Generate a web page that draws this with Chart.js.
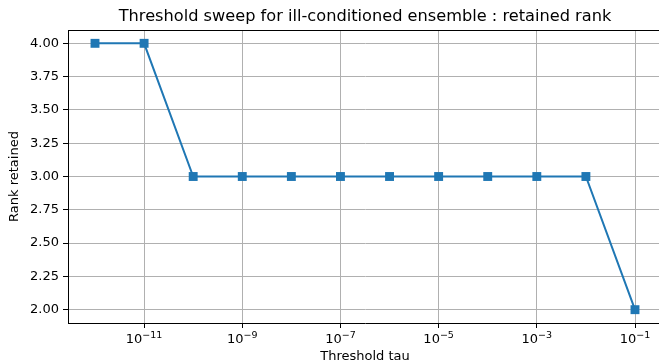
<!DOCTYPE html>
<html>
<head>
<meta charset="utf-8">
<script src="https://cdn.jsdelivr.net/npm/chart.js@4/dist/chart.umd.min.js"></script>
<style>
  html, body { margin: 0; padding: 0; background: #fff; overflow: hidden; width: 659px; height: 362px; }
  canvas { display: block; }
</style>
</head>
<body>
<canvas id="c" width="680" height="362"></canvas>
<script>
// Truncation thresholds swept (log spaced) and the rank kept at each one
const thresholds = [1e-12, 1e-11, 1e-10, 1e-9, 1e-8, 1e-7, 1e-6, 1e-5, 1e-4, 1e-3, 1e-2, 1e-1];
const rankRetained = [4, 4, 3, 3, 3, 3, 3, 3, 3, 3, 3, 2];

// Axis ticks
const xTickExponents = [-11, -9, -7, -5, -3, -1];
const yTickValues = [2.00, 2.25, 2.50, 2.75, 3.00, 3.25, 3.50, 3.75, 4.00];

const titleText = 'Threshold sweep for ill-conditioned ensemble : retained rank';
const xLabel = 'Threshold tau';
const yLabel = 'Rank retained';

const FONT = '"DejaVu Sans", sans-serif';
const LINE_COLOR = '#1f77b4';

// Frame, title, axis labels and power-of-ten tick labels
const decorations = {
  id: 'decorations',
  afterDraw(chart) {
    const { ctx, chartArea: a } = chart;
    ctx.save();
    ctx.strokeStyle = '#000';
    ctx.lineWidth = 1;
    ctx.beginPath();
    ctx.moveTo(a.left, a.top + 0.5);
    ctx.lineTo(a.right, a.top + 0.5);
    ctx.moveTo(a.right - 0.5, a.top);
    ctx.lineTo(a.right - 0.5, a.bottom);
    ctx.stroke();

    ctx.fillStyle = '#000';

    // x tick labels as 10 with a raised exponent
    const xs = chart.scales.x;
    ctx.textBaseline = 'alphabetic';
    ctx.textAlign = 'left';
    xs.ticks.forEach(t => {
      const e = Math.round(Math.log10(t.value));
      const base = '10';
      const exp = '\u2212' + String(Math.abs(e));
      ctx.font = '13px ' + FONT;
      const wb = ctx.measureText(base).width;
      ctx.font = '9.5px ' + FONT;
      const we = ctx.measureText(exp).width;
      const x0 = xs.getPixelForValue(t.value) - (wb + we) / 2;
      ctx.font = '13px ' + FONT;
      ctx.fillText(base, x0, 343);
      ctx.font = '9.5px ' + FONT;
      ctx.fillText(exp, x0 + wb, 338);
    });

    ctx.textAlign = 'center';
    ctx.textBaseline = 'middle';
    ctx.font = '16.2px ' + FONT;
    ctx.fillText(titleText, (a.left + a.right) / 2, 17);

    ctx.font = '13px ' + FONT;
    ctx.fillText(xLabel, (a.left + a.right) / 2, 357);

    ctx.translate(15, (a.top + a.bottom) / 2);
    ctx.rotate(-Math.PI / 2);
    ctx.fillText(yLabel, 0, 0);
    ctx.restore();
  }
};

new Chart(document.getElementById('c'), {
  type: 'line',
  data: {
    datasets: [{
      data: thresholds.map((t, i) => ({ x: t, y: rankRetained[i] })),
      borderColor: LINE_COLOR,
      backgroundColor: LINE_COLOR,
      borderWidth: 2,
      pointStyle: 'rect',
      pointRadius: 6.3,
      pointHoverRadius: 6.3,
      pointBorderWidth: 0,
      tension: 0,
      fill: false
    }]
  },
  options: {
    responsive: false,
    animation: false,
    devicePixelRatio: 1,
    layout: { padding: { top: 30, right: 18, bottom: 0, left: 0 } },
    plugins: { legend: { display: false }, title: { display: false }, tooltip: { enabled: false } },
    events: [],
    scales: {
      x: {
        type: 'logarithmic',
        min: Math.pow(10, -12.55),
        max: Math.pow(10, -0.45),
        afterBuildTicks: (s) => { s.ticks = xTickExponents.map(e => ({ value: Math.pow(10, e) })); },
        afterFit: (s) => { s.height = 39; },
        grid: { color: '#b0b0b0', lineWidth: 1, drawTicks: true, tickLength: 5, tickColor: '#000', tickWidth: 1 },
        border: { display: true, color: '#000', width: 1 },
        ticks: { display: false, autoSkip: false }
      },
      y: {
        type: 'linear',
        min: 1.9,
        max: 4.1,
        afterBuildTicks: (s) => { s.ticks = yTickValues.map(v => ({ value: v })); },
        afterFit: (s) => { s.width = 68; },
        grid: { color: '#b0b0b0', lineWidth: 1, drawTicks: true, tickLength: 5, tickColor: '#000', tickWidth: 1 },
        border: { display: true, color: '#000', width: 1 },
        ticks: {
          color: '#000', font: { family: FONT, size: 13 }, padding: 4,
          autoSkip: false,
          callback: (v) => Number(v).toFixed(2)
        }
      }
    }
  },
  plugins: [decorations]
});
</script>
</body>
</html>
